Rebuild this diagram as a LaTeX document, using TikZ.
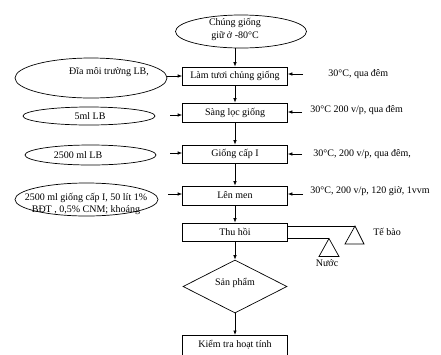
\documentclass[tikz,border=0pt]{standalone}
\usepackage{fontspec}
\setmainfont{Liberation Serif}
\usetikzlibrary{shapes.geometric,arrows.meta}
\tikzset{
  every node/.style={font=\fontsize{10}{12.5}\selectfont},
  boxnode/.style={draw, rectangle, minimum width=105pt, inner sep=0pt},
  ellnode/.style={draw, ellipse, inner sep=0pt},
  txt/.style={inner sep=0pt},
  arr/.style={-{Latex[length=4.5pt,width=3.5pt]}},
}
\begin{document}
\begin{tikzpicture}[x=1pt,y=-1pt,line width=0.7pt]
\useasboundingbox (0,0) rectangle (441,354);
% main column
\node[ellnode, minimum width=131pt, minimum height=33pt] (e0) at (241,31.5) {};
\node[txt, align=center] (t0) at (235,29.5) {Chúng giống\\giữ ở -80°C};
\node[boxnode, minimum height=18pt] (b1) at (235,76) {Làm tươi chủng giống};
\node[boxnode, minimum height=19pt] (b2) at (235,112.5) {Sàng lọc giống};
\node[boxnode, minimum height=18pt] (b3) at (235,154) {Giống cấp I};
\node[boxnode, minimum height=19pt] (b4) at (235,195.5) {Lên men};
\node[boxnode, minimum height=18pt] (b5) at (235,232) {Thu hồi};
\node[draw, diamond, minimum width=104pt, minimum height=53pt, inner sep=0pt, aspect=1.96] (d) at (235,286.5) {};
\node[txt] (dt) at (235,283) {Sản phẩm};
\node[draw, rectangle, anchor=north, minimum width=105pt, inner sep=0pt, text height=12pt, text depth=25pt] (b6) at (235,335) {Kiểm tra hoạt tính};
% vertical arrows
\draw[arr] (e0.south -| b1.north) -- (b1.north);
\draw[arr] (b1) -- (b2);
\draw[arr] (b2) -- (b3);
\draw[arr] (b3) -- (b4);
\draw[arr] (b4) -- (b5);
\draw[arr] (b5) -- (d);
\draw[arr] (d) -- (b6);
% left ellipses
\node[ellnode, minimum width=152pt, minimum height=40pt] (e1) at (91,78) {};
\node[txt] (t1) at (109,72) {Đĩa môi trường LB,};
\node[ellnode, minimum width=132pt, minimum height=18pt] (e2) at (89,116) {};
\node[txt] (t2) at (90,116) {5ml LB};
\node[ellnode, minimum width=131pt, minimum height=20pt] (e3) at (90.5,155) {};
\node[txt] (t3) at (78,155) {2500 ml LB};
\node[ellnode, minimum width=143pt, minimum height=33pt] (e4) at (86.5,199.5) {};
\node[txt, align=center] (t4) at (86,204) {2500 ml giống cấp I, 50 lít 1\%\\BĐT , 0,5\% CNM; khoáng};
% left arrows
\coordinate (l1) at (167,76);
\coordinate (l2) at (170,115);
\coordinate (l3) at (170,153);
\coordinate (l4) at (168,194);
\draw[arr] (l1) -- (l1 -| b1.west);
\draw[arr] (l2) -- (l2 -| b2.west);
\draw[arr] (l3) -- (l3 -| b3.west);
\draw[arr] (l4) -- (l4 -| b4.west);
% right arrows
\coordinate (r1) at (303,74);
\coordinate (r2) at (302,112);
\coordinate (r3) at (302,154);
\coordinate (r4) at (303,194);
\draw[arr] (r1) -- (r1 -| b1.east);
\draw[arr] (r2) -- (r2 -| b2.east);
\draw[arr] (r3) -- (r3 -| b3.east);
\draw[arr] (r4) -- (r4 -| b4.east);
% right texts
\node[txt, anchor=west] (c1) at (328,74) {30°C, qua đêm};
\node[txt, anchor=west] (c2) at (310,110) {30°C 200 v/p, qua đêm};
\node[txt, anchor=west] (c3) at (313,154) {30°C, 200 v/p, qua đêm,};
\node[txt, anchor=west] (c4) at (310,191) {30°C, 200 v/p, 120 giờ, 1vvm};
% outputs
\coordinate (tb) at (355,226);
\coordinate (nu) at (329,238.5);
\draw (tb -| b5.east) -- (tb);
\draw (nu -| b5.east) -- (nu);
\draw (tb) -- ++(-10,18) -- ++(19,0) -- cycle;
\draw (nu) -- ++(-10,18) -- ++(20,0) -- cycle;
\node[txt] (ttb) at (387,232) {Tế bào};
\node[txt] (tnu) at (327,263) {Nước};
\end{tikzpicture}
\end{document}
